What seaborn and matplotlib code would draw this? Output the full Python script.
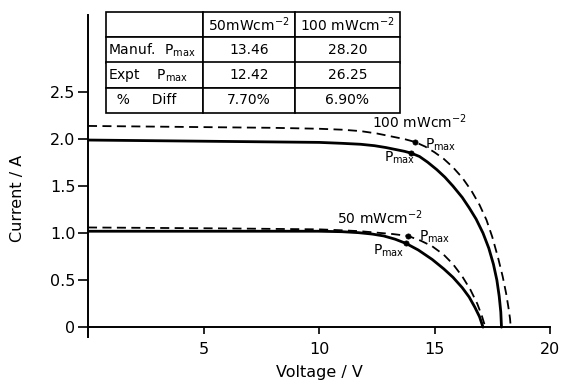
import matplotlib
matplotlib.use("Agg")
import matplotlib.pyplot as plt
import seaborn as sns
import pandas as pd

# ---- data ----
v_100_expt = [0, 4, 8, 10, 11, 11.8, 12.4, 12.9, 13.3, 13.7, 14.0, 14.35, 14.7, 15.1, 15.45, 15.8, 16.2, 16.5, 16.8, 17.1, 17.35, 17.55, 17.7, 17.8, 17.87, 17.9]
i_100_expt = [1.99, 1.98, 1.97, 1.965, 1.955, 1.945, 1.93, 1.91, 1.89, 1.87, 1.85, 1.815, 1.755, 1.675, 1.595, 1.50, 1.38, 1.27, 1.15, 1.00, 0.84, 0.67, 0.50, 0.33, 0.16, 0.0]

v_100_manuf = [0, 4, 8, 10, 11, 11.8, 12.5, 13.1, 13.7, 14.15, 14.6, 15.0, 15.4, 15.8, 16.2, 16.6, 16.95, 17.25, 17.5, 17.75, 17.95, 18.1, 18.2, 18.27, 18.3]
i_100_manuf = [2.14, 2.13, 2.12, 2.11, 2.10, 2.085, 2.06, 2.03, 2.00, 1.97, 1.92, 1.86, 1.79, 1.70, 1.59, 1.45, 1.30, 1.14, 0.96, 0.74, 0.54, 0.36, 0.21, 0.09, 0.0]

v_50_expt = [0, 6, 10, 11.0, 11.7, 12.3, 12.8, 13.3, 13.77, 14.3, 14.9, 15.4, 15.8, 16.2, 16.5, 16.75, 16.95, 17.1]
i_50_expt = [1.02, 1.02, 1.02, 1.015, 1.005, 0.99, 0.97, 0.935, 0.89, 0.82, 0.72, 0.62, 0.53, 0.42, 0.32, 0.21, 0.11, 0.0]

v_50_manuf = [0, 6, 10, 11.0, 11.8, 12.5, 13.2, 13.85, 14.4, 14.9, 15.4, 15.8, 16.2, 16.55, 16.85, 17.05, 17.2]
i_50_manuf = [1.06, 1.05, 1.04, 1.03, 1.02, 1.005, 0.99, 0.97, 0.92, 0.86, 0.77, 0.67, 0.54, 0.40, 0.25, 0.12, 0.0]

pmax_v = [14.0, 14.15, 13.77, 13.85]
pmax_i = [1.85, 1.97, 0.89, 0.97]

x_ticks = [5, 10, 15, 20]
y_ticks = [0, 0.5, 1.0, 1.5, 2.0, 2.5]
y_tick_labels = ["0", "0.5", "1.0", "1.5", "2.0", "2.5"]

table_header = ["", "50mWcm$^{-2}$", "100 mWcm$^{-2}$"]
table_rows = [
    ["Manuf.  P$_{max}$", "13.46", "28.20"],
    ["Expt    P$_{max}$", "12.42", "26.25"],
    ["  %     Diff", "7.70%", "6.90%"],
]

sns.set_style("ticks")
plt.rcParams["font.family"] = ["DejaVu Sans"]
plt.rcParams["mathtext.default"] = "regular"
for key in ["text.color", "axes.labelcolor", "xtick.color", "ytick.color", "axes.edgecolor"]:
    plt.rcParams[key] = "black"

fig = plt.figure(figsize=(5.65, 3.85), dpi=100)
ax = fig.add_axes([88 / 565, 1 - 337 / 385, 462 / 565, 322 / 385])

curves = [
    (v_100_expt, i_100_expt, "-", 2.0),
    (v_100_manuf, i_100_manuf, (0, (5, 3)), 1.3),
    (v_50_expt, i_50_expt, "-", 2.0),
    (v_50_manuf, i_50_manuf, (0, (5, 3)), 1.3),
]
for v, i, ls, lw in curves:
    df = pd.DataFrame({"V": v, "I": i})
    sns.lineplot(data=df, x="V", y="I", ax=ax, color="black", sort=False,
                 linewidth=lw, linestyle=ls, estimator=None)

sns.scatterplot(x=pmax_v, y=pmax_i, ax=ax, color="black", s=14, zorder=5,
                edgecolor="black", linewidth=0.5)

ax.set_xlim(0, 20)
ax.set_ylim(-0.105, 3.32)
ax.spines["bottom"].set_position(("data", 0))
ax.spines["top"].set_visible(False)
ax.spines["right"].set_visible(False)
ax.spines["left"].set_linewidth(1.4)
ax.spines["bottom"].set_linewidth(1.4)

ax.set_xticks(x_ticks)
ax.set_yticks(y_ticks)
ax.set_yticklabels(y_tick_labels)
ax.tick_params(axis="x", direction="out", length=5, width=1.2, labelsize=11.5, pad=6)
ax.tick_params(axis="y", direction="out", length=7, width=1.2, labelsize=11.5, pad=2)

ax.set_xlabel("Voltage / V", fontsize=11.5)
ax.xaxis.set_label_coords(0.5, -0.088)
ax.set_ylabel("Current / A", fontsize=11.5)
ax.yaxis.set_label_coords(-0.136, 0.43)

# curve annotations
fs = 10
ax.text(12.3, 2.19, "100 mWcm$^{-2}$", fontsize=fs, va="center", ha="left")
ax.text(14.6, 1.94, "P$_{max}$", fontsize=fs, va="center", ha="left")
ax.text(12.8, 1.80, "P$_{max}$", fontsize=fs, va="center", ha="left")
ax.text(10.8, 1.16, "50 mWcm$^{-2}$", fontsize=fs, va="center", ha="left")
ax.text(14.35, 0.96, "P$_{max}$", fontsize=fs, va="center", ha="left")
ax.text(12.35, 0.81, "P$_{max}$", fontsize=fs, va="center", ha="left")

# table
cell_text = [table_header] + table_rows
x0 = (106 - 88) / 462
x1 = (400 - 88) / 462
y0 = (337 - 113) / 322
y1 = (337 - 12) / 322
tbl = ax.table(cellText=cell_text, colWidths=[97, 92, 105], cellLoc="center",
               bbox=[x0, y0, x1 - x0, y1 - y0])
tbl.auto_set_font_size(False)
for (r, c), cell in tbl.get_celld().items():
    cell.set_linewidth(1.2)
    cell.set_edgecolor("black")
    cell.get_text().set_fontsize(10)
    cell.get_text().set_color("black")
    if c == 0:
        cell.get_text().set_ha("left")
        cell._loc = "left"
        cell.PAD = 0.02
tbl.set_clip_on(False)

fig.savefig("out.png", dpi=100)
